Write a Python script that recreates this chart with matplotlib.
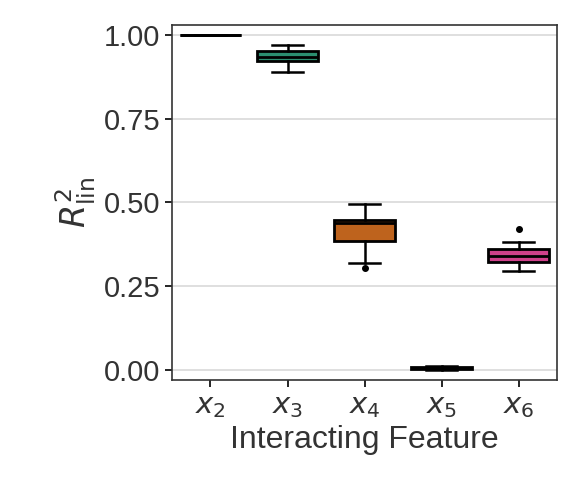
import matplotlib
matplotlib.use("Agg")
import matplotlib.pyplot as plt
import seaborn as sns

features = ["$x_2$", "$x_3$", "$x_4$", "$x_5$", "$x_6$"]
whislo = [0.998, 0.890, 0.319, 0.001, 0.296]
q1 = [0.999, 0.921, 0.386, 0.002, 0.322]
med = [1.000, 0.934, 0.437, 0.005, 0.341]
q3 = [1.000, 0.951, 0.446, 0.009, 0.362]
whishi = [1.000, 0.969, 0.495, 0.012, 0.381]
fliers = [[], [], [0.303], [], [0.422]]

d2 = sns.color_palette("Dark2", 8)
base = [d2[7], d2[0], d2[1], d2[2], d2[3]]
pal = [sns.desaturate(c, 0.75) for c in base]

plt.rcParams["font.family"] = ["Arial", "Liberation Sans", "DejaVu Sans"]
plt.rcParams["mathtext.fontset"] = "dejavusans"
fig = plt.figure(figsize=(5.81, 5.04), dpi=100)
ax = fig.add_axes([0.296, 0.246, 0.663, 0.705])

stats = [dict(whislo=a, q1=b, med=c, q3=d, whishi=e, fliers=f)
         for a, b, c, d, e, f in zip(whislo, q1, med, q3, whishi, fliers)]
bp = ax.bxp(stats, positions=range(len(features)), widths=0.8, patch_artist=True,
            boxprops=dict(linewidth=2, edgecolor="black"),
            medianprops=dict(color="black", linewidth=2),
            whiskerprops=dict(linewidth=1.8), capprops=dict(linewidth=1.8),
            flierprops=dict(marker="o", markerfacecolor="black", markeredgecolor="black", markersize=4))
for b, c in zip(bp["boxes"], pal):
    b.set_facecolor(c)
for cap in bp["caps"]:
    x = cap.get_xdata()
    m = x.mean()
    cap.set_xdata([m - 0.2, m + 0.2])

ax.set_ylim(-0.03, 1.03)
ax.set_xlim(-0.5, 4.5)
ax.set_yticks([0, 0.25, 0.5, 0.75, 1.0])
ax.set_yticklabels(["0.00", "0.25", "0.50", "0.75", "1.00"])
ax.set_xticks(range(len(features)))
ax.set_xticklabels(features)
ax.yaxis.grid(True, color="#d9d9d9", linewidth=1.2)
ax.set_axisbelow(True)
ax.tick_params(labelsize=21, length=5, width=1.2)
for s in ax.spines.values():
    s.set_linewidth(1.2)
    s.set_color("#333333")
ax.set_xlabel("Interacting Feature", fontsize=23, color="#333333")
ax.set_ylabel(r"$R^2_{\mathrm{lin}}$", fontsize=24, color="#333333")
for t in ax.get_xticklabels() + ax.get_yticklabels():
    t.set_color("#333333")
fig.savefig("out.png", dpi=100)
